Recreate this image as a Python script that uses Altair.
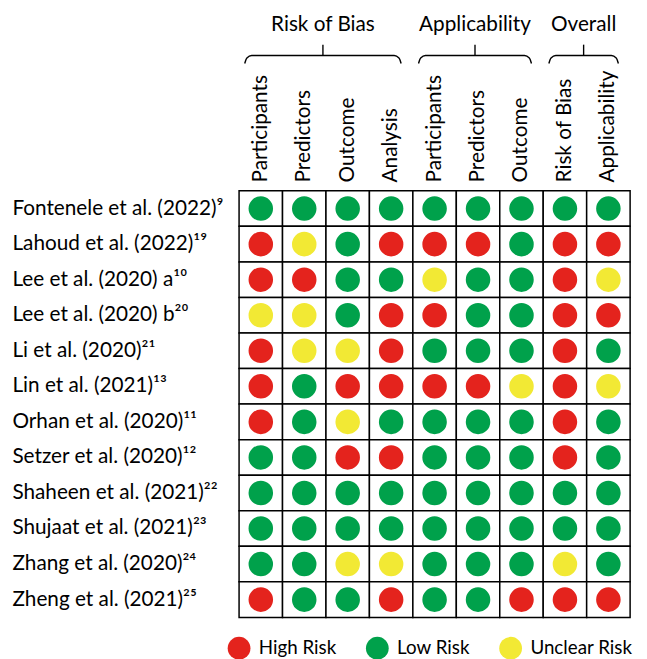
import altair as alt
import pandas as pd

studies = [
    "Fontenele et al. (2022)⁹",
    "Lahoud et al. (2022)¹⁹",
    "Lee et al. (2020) a¹⁰",
    "Lee et al. (2020) b²⁰",
    "Li et al. (2020)²¹",
    "Lin et al. (2021)¹³",
    "Orhan et al. (2020)¹¹",
    "Setzer et al. (2020)¹²",
    "Shaheen et al. (2021)²²",
    "Shujaat et al. (2021)²³",
    "Zhang et al. (2020)²⁴",
    "Zheng et al. (2021)²⁵",
]

columns = [
    "Participants|rob", "Predictors|rob", "Outcome|rob", "Analysis|rob",
    "Participants|app", "Predictors|app", "Outcome|app",
    "Risk of Bias|ov", "Applicability|ov",
]

# H = High Risk, L = Low Risk, U = Unclear Risk
ratings = [
    "LLLLLLLLL",
    "HULHHHLHH",
    "HHLLULLHU",
    "UULHHLLHH",
    "HUUHLLLHL",
    "HLHHHHUHU",
    "HLULLLLHL",
    "LLHHLLLHL",
    "LLLLLLLLL",
    "LLLLLLLLL",
    "LLUULLLUL",
    "HLLHLLHHH",
]

risk_names = {"H": "High Risk", "L": "Low Risk", "U": "Unclear Risk"}
legend_labels = ["High Risk", "Low Risk", "Unclear Risk"]
legend_colors = ["#E4231D", "#00A14B", "#F2E934"]

groups = ["Risk of Bias", "Applicability", "Overall"]
group_start = [0, 4, 7]
group_end = [4, 7, 9]

FONT = "Lato"
FS = 21

rows = []
for s, r in zip(studies, ratings):
    for c, v in zip(columns, r):
        rows.append({"study": s, "col": c, "risk": risk_names[v]})
df = pd.DataFrame(rows)

x_enc = alt.X(
    "col:N", sort=columns,
    scale=alt.Scale(paddingInner=0, paddingOuter=0),
    axis=alt.Axis(orient="top", labelAngle=-90, labelAlign="left", labelBaseline="middle",
                  labelPadding=9, ticks=False, domain=False, title=None,
                  labelExpr="split(datum.value, '|')[0]", labelFont=FONT,
                  labelFontSize=FS, labelColor="black", labelLimit=300),
)
y_enc = alt.Y(
    "study:N", sort=studies,
    scale=alt.Scale(paddingInner=0, paddingOuter=0),
    axis=alt.Axis(labelAlign="left", labelPadding=230, ticks=False, domain=False,
                  title=None, labelFont=FONT, labelFontSize=FS, labelColor="black",
                  labelLimit=300),
)

base = alt.Chart(df)
cells = base.mark_rect(fill="white", stroke="black", strokeWidth=1.5).encode(x=x_enc, y=y_enc)
dots = base.mark_circle(size=616, opacity=1).encode(
    x=alt.X("col:N", sort=columns, scale=alt.Scale(paddingInner=0, paddingOuter=0), axis=None),
    y=alt.Y("study:N", sort=studies, scale=alt.Scale(paddingInner=0, paddingOuter=0), axis=None),
    color=alt.Color(
        "risk:N",
        scale=alt.Scale(domain=legend_labels, range=legend_colors),
        legend=alt.Legend(orient="none", legendX=-12, legendY=451, direction="horizontal",
                          title=None, symbolType="circle", symbolSize=531,
                          symbolStrokeWidth=0, labelFont=FONT, labelFontSize=19,
                          labelColor="black", labelOffset=8, columnPadding=29,
                          padding=0, labelLimit=300),
    ),
)

# header geometry (in pixels above the grid, y axis scale in pixels)
shift = 0.07
inset = 0.2
hdr = pd.DataFrame({
    "group": groups,
    "center": [(a + b) / 2 - shift for a, b in zip(group_start, group_end)],
})
brace_rows = []
for g, a, b in zip(groups, group_start, group_end):
    c = (a + b) / 2 - shift
    half = (b - a) / 2 - inset
    x0, x1 = c - half, c + half
    pts = [(x0, -129), (x0 + 0.05, -134.5), (x0 + 0.16, -137),
           (x1 - 0.16, -137), (x1 - 0.05, -134.5), (x1, -129)]
    for i, (px, py) in enumerate(pts):
        brace_rows.append({"group": g, "i": i, "bx": px, "by": py})
braces = pd.DataFrame(brace_rows)

hx = alt.Scale(domain=[0, 9], nice=False, zero=False)
hy = alt.Scale(domain=[0, 432], nice=False, zero=False, reverse=True)

head_text = alt.Chart(hdr).mark_text(font=FONT, fontSize=FS, baseline="alphabetic",
                                     align="center", color="black").encode(
    x=alt.X("center:Q", scale=hx, axis=None),
    y=alt.Y("ty:Q", scale=hy, axis=None),
    text="group:N",
).transform_calculate(ty="-162")

brace_line = alt.Chart(braces).mark_line(color="black", strokeWidth=1.4,
                                         interpolate="monotone").encode(
    x=alt.X("bx:Q", scale=hx, axis=None),
    y=alt.Y("by:Q", scale=hy, axis=None),
    detail="group:N",
    order="i:Q",
)

brace_tick = alt.Chart(hdr).mark_rule(color="black", strokeWidth=1.4).encode(
    x=alt.X("center:Q", scale=hx, axis=None),
    y=alt.Y("t0:Q", scale=hy, axis=None),
    y2="t1:Q",
).transform_calculate(t0="-137", t1="-148")

chart = alt.layer(cells, dots, head_text, brace_line, brace_tick).resolve_scale(
    x="independent", y="independent"
).properties(
    width=396, height=432,
    padding={"left": 234, "top": 181, "right": 9, "bottom": 38},
    autosize=alt.AutoSizeParams(type="none"),
).configure_view(stroke=None)

chart.save("out.html", embed_options={"renderer": "svg", "actions": False})
